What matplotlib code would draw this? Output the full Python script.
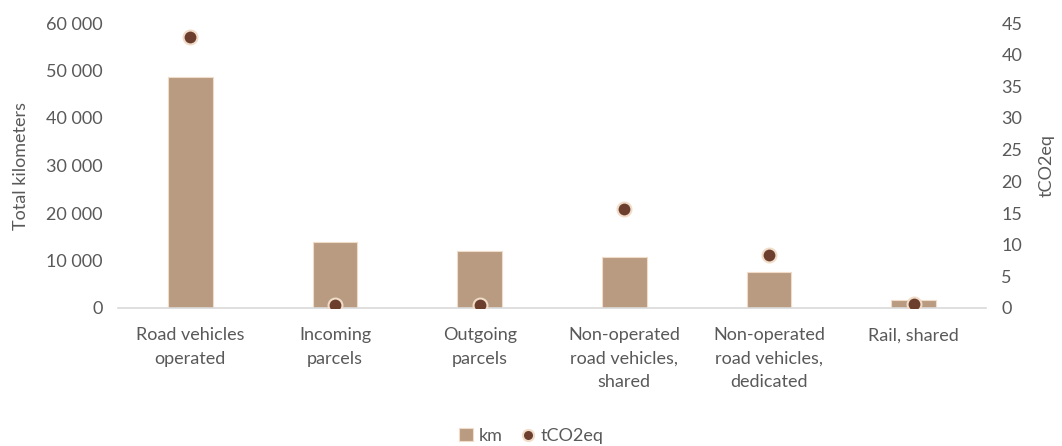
import numpy as np
import matplotlib.pyplot as plt

categories = ["Road vehicles\noperated", "Incoming\nparcels", "Outgoing\nparcels",
              "Non-operated\nroad vehicles,\nshared", "Non-operated\nroad vehicles,\ndedicated",
              "Rail, shared"]
km = [48700, 14000, 12000, 10700, 7500, 1700]
tco2 = [42.8, 0.4, 0.4, 15.7, 8.3, 0.7]

plt.rcParams['font.family'] = ['Lato', 'DejaVu Sans']
grey = "#595959"
bar_color = "#b89b80"
dot_color = "#6b3e2e"
edge_color = "#f0dcc8"
fs = 13

fig = plt.figure(figsize=(10.62, 4.46), dpi=100)
ax = fig.add_axes([118 / 1062, 1 - 308 / 446, (986 - 118) / 1062, (308 - 23) / 446])
ax2 = ax.twinx()

x = np.arange(len(categories))
ax.bar(x, km, width=0.31, color=bar_color, edgecolor=edge_color, linewidth=0.8, label="km", zorder=2)
ax2.plot(x, tco2, linestyle="none", marker="o", markersize=10, markerfacecolor=dot_color,
         markeredgecolor=edge_color, markeredgewidth=1.5, label="tCO2eq", zorder=3)

ax.set_xlim(-0.5, len(categories) - 0.5)
ax.set_ylim(0, 60000)
ax2.set_ylim(0, 45)
ax.set_yticks(np.arange(0, 60001, 10000))
ax.set_yticklabels([f"{v:,}".replace(",", " ") for v in range(0, 60001, 10000)])
ax2.set_yticks(np.arange(0, 46, 5))
ax.set_xticks(x)
ax.set_xticklabels(categories, va="top", linespacing=1.55)

for a in (ax, ax2):
    for s in a.spines.values():
        s.set_visible(False)
    a.tick_params(length=0, colors=grey, labelsize=fs)
ax.spines["bottom"].set_visible(True)
ax.spines["bottom"].set_color("#d9d9d9")
ax.spines["bottom"].set_linewidth(1.2)
ax.tick_params(axis="x", pad=14)
ax.tick_params(axis="y", pad=11)
ax2.tick_params(axis="y", pad=11)

ax.set_ylabel("Total kilometers", color=grey, fontsize=fs, labelpad=12)
ax2.set_ylabel("tCO2eq", color=grey, fontsize=fs, labelpad=12)

h1, l1 = ax.get_legend_handles_labels()
h2, l2 = ax2.get_legend_handles_labels()
fig.legend(h1 + h2, l1 + l2, loc="center", bbox_to_anchor=(0.5, 1 - 436 / 446),
           ncol=2, frameon=False, fontsize=fs, labelcolor=grey, handlelength=0.8,
           handletextpad=0.3, columnspacing=1.0, markerscale=0.8)

fig.savefig("out.png", dpi=100)
